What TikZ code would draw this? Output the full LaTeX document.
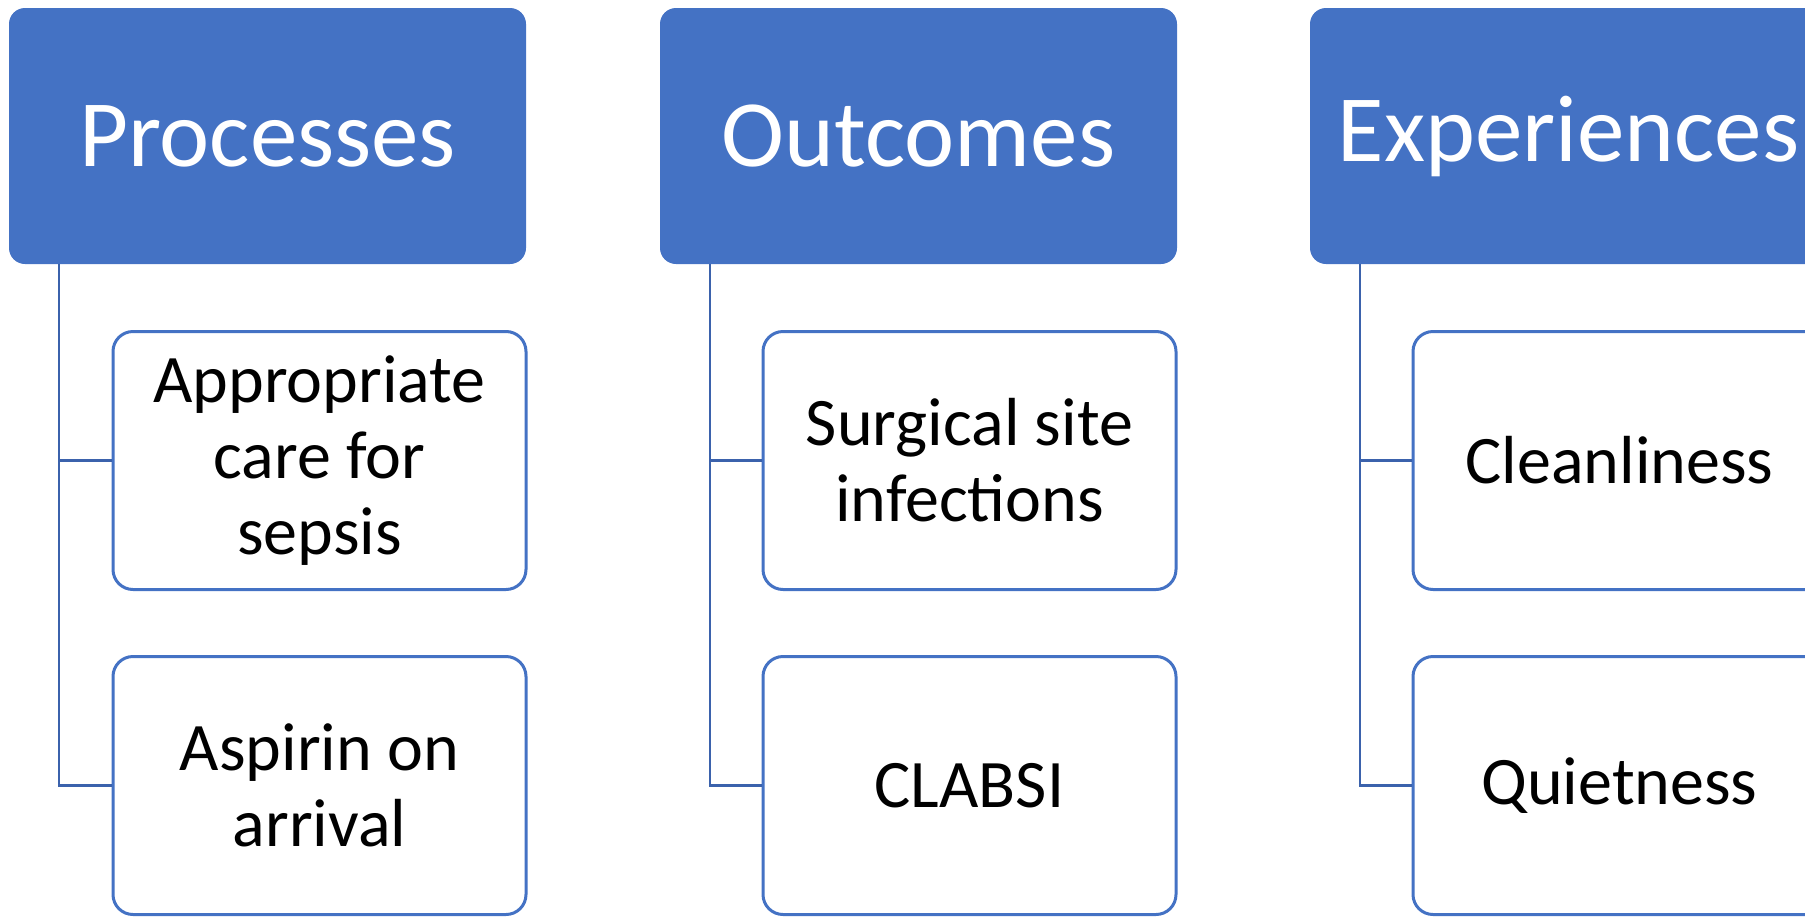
\documentclass[tikz,border=0pt]{standalone}
\usepackage{fontspec}
\setmainfont{Carlito}
\usepackage{tikz}
\usetikzlibrary{positioning, calc}
\definecolor{accent}{HTML}{4472C4}
\definecolor{linkblue}{HTML}{3B62AC}

\begin{document}
\begin{tikzpicture}[
    x=1pt, y=1pt,
    head/.style={rounded corners=16pt, fill=accent, draw=none,
                 minimum width=517pt, minimum height=256pt, align=center,
                 text=white, font=\fontsize{95}{110}\selectfont},
    item/.style={rounded corners=20pt, draw=accent, fill=white,
                 line width=3pt, minimum width=413pt, minimum height=258pt,
                 align=center, font=\fontsize{68}{76}\selectfont},
    link/.style={draw=linkblue, line width=2.5pt},
  ]
  \useasboundingbox (0,0) rectangle (1805,-916);
  \clip (0,0) rectangle (1805,-916);
  % headers
  \node[head] (proc) at (267.5,-136) {Processes};
  \node[head] (outc) at (918.5,-136) {Outcomes};
  \node[head] (expr) at (1568.5,-136) {Experiences};
  % items
  \node[item] (sepsis) at (319.5,-460.5) {Appropriate\\care for\\sepsis};
  \node[item] (aspirin) at (319.5,-785.5) {Aspirin on\\arrival};
  \node[item] (ssi) at (969.5,-460.5) {Surgical site\\infections};
  \node[item] (clabsi) at (969.5,-785.5) {CLABSI};
  \node[item] (clean) at (1619.5,-460.5) {Cleanliness};
  \node[item] (quiet) at (1619.5,-785.5) {Quietness};
  % links
  \draw[link] ([xshift=50pt]proc.south west) |- (sepsis.west);
  \draw[link] ([xshift=50pt]proc.south west) |- (aspirin.west);
  \draw[link] ([xshift=50pt]outc.south west) |- (ssi.west);
  \draw[link] ([xshift=50pt]outc.south west) |- (clabsi.west);
  \draw[link] ([xshift=50pt]expr.south west) |- (clean.west);
  \draw[link] ([xshift=50pt]expr.south west) |- (quiet.west);
\end{tikzpicture}
\end{document}
